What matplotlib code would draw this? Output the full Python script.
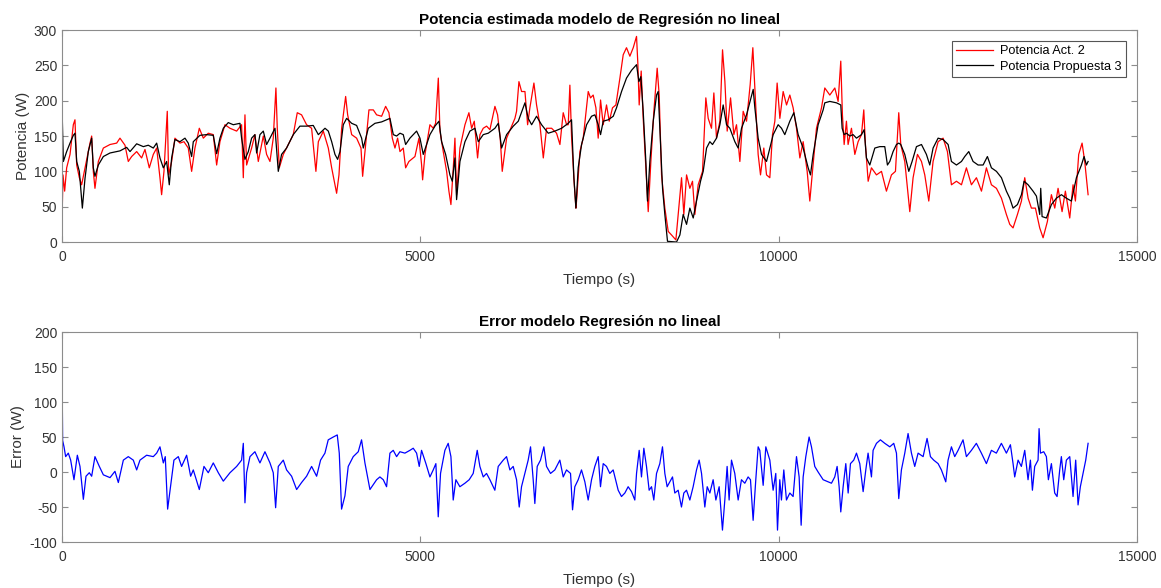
import matplotlib
matplotlib.use("Agg")
import matplotlib.pyplot as plt

# puntos (tiempo s, valor W)
act2_pts = [(0,29),(14,95),(37,72),(65,105),(112,124),(158,166),(181,173),(205,109),(242,91),(274,81),(321,105),(391,140),(414,150),(437,100),(460,76),(507,114),(577,133),(670,138),(763,140),(809,147),(879,137),(925,114),(972,121),(1042,128),(1111,119),(1158,131),(1218,105),(1274,124),(1321,133),(1367,91),(1390,67),(1423,100),(1469,185),(1488,95),(1530,114),(1576,147),(1646,140),(1702,142),(1762,133),(1809,100),(1855,133),(1916,161),(1972,147),(2041,154),(2111,152),(2158,109),(2204,142),(2274,166),(2344,161),(2437,157),(2506,166),(2530,91),(2553,180),(2576,109),(2646,133),(2692,152),(2739,114),(2809,150),(2855,124),(2902,114),(2948,147),(2985,218),(3004,161),(3032,105),(3088,124),(3157,138),(3227,152),(3283,183),(3343,180),(3413,166),(3483,161),(3543,100),
    (3577,142),(3646,157),(3716,133),(3763,105),(3809,81),(3832,69),(3865,95),(3902,161),(3939,190),(3958,206),(3986,180),(4042,152),(4111,147),(4172,133),(4195,93),(4237,138),(4283,187),(4344,187),(4390,180),(4460,178),(4516,192),(4562,183),(4609,147),(4646,133),(4683,147),(4716,128),(4762,133),(4795,105),(4841,114),(4925,121),(4981,147),(5018,109),(5032,88),(5065,124),(5134,166),(5181,161),(5213,168),(5251,232),(5274,157),(5320,128),(5367,100),(5399,72),(5427,53),(5460,105),(5483,147),(5506,67),(5553,133),(5623,166),(5678,183),(5716,161),(5753,171),(5799,119),(5832,152),(5878,161),(5925,164),(5971,159),(6041,192),(6078,180),(6115,147),(6143,100),(6204,147),(6274,164),(6320,175),(6343,185),(6376,227),(6413,213),(6460,213),(6497,166),(6529,190),(6585,225),(6622,194),(6669,166),(6716,119),(6762,161),(6832,161),(6901,154),(6948,138),(6994,183),(7041,166),(7064,166),(7087,222),(7110,150),(7143,90),(7171,48),
    (7180,58),(7227,128),(7273,147),(7343,213),(7375,204),(7412,208),(7450,190),(7482,147),(7515,201),(7552,166),(7598,194),(7636,171),(7682,190),(7729,194),(7785,232),(7831,265),(7877,275),(7924,263),(7971,275),(8017,291),(8036,251),(8054,194),(8082,242),(8110,175),(8147,105),(8180,43),(8217,114),(8259,185),(8305,246),(8333,208),(8366,95),(8412,48),(8459,15),(8505,10),(8566,3),(8598,39),(8645,91),(8677,39),(8715,95),(8761,76),(8798,86),(8831,39),(8877,81),(8938,100),(8984,204),(9017,175),(9063,161),(9096,211),(9133,147),(9180,171),(9217,272),(9250,227),(9282,157),(9329,204),(9375,152),(9412,166),(9459,114),(9505,185),(9552,171),(9603,223),(9640,275),(9673,208),(9714,124),(9747,95),(9793,133),(9831,95),(9877,91),(9914,152),(9947,171),(9979,225),(10017,175),(10063,213),(10110,194),(10156,208),(10202,190),(10249,161),(10296,119),(10342,142),(10398,100),(10435,58),(10472,100),(10528,161),(10598,190),
    (10644,218),(10714,208),(10784,218),(10830,199),(10867,256),(10890,180),(10914,138),(10946,171),(10969,138),(11016,161),(11063,124),(11109,142),(11156,152),(11188,187),(11211,138),(11249,86),(11295,105),(11365,95),(11435,100),(11504,72),(11574,95),(11630,100),(11676,183),(11704,138),(11760,114),(11830,43),(11876,91),(11937,124),(11993,114),(12039,95),(12095,58),(12155,114),(12225,142),(12295,147),(12355,128),(12411,81),(12481,86),(12551,81),(12620,105),(12690,81),(12760,91),(12830,72),(12899,105),(12969,81),(13039,76),(13109,62),(13178,39),(13225,25),(13271,20),(13332,39),(13388,58),(13434,91),(13481,62),(13527,48),(13583,48),(13643,20),(13690,6),(13750,29),(13806,67),(13853,48),(13899,76),(13955,43),(14001,72),(14062,34),(14108,81),(14141,58),(14187,124),(14234,140),(14271,114),(14318,67)]

prop3_pts = [(0,192),(19,114),(65,128),(112,140),(158,151),(181,154),(205,114),(242,100),(284,48),(321,90),(367,128),(414,147),(437,105),(460,93),(507,109),(577,121),(670,126),(809,129),(902,134),(949,128),(1042,139),(1135,135),(1204,137),(1274,133),(1321,140),(1367,119),(1414,105),(1460,114),(1497,81),(1530,119),(1576,145),(1646,142),(1716,147),(1762,140),(1809,121),(1832,142),(1925,151),(2018,152),(2111,151),(2158,125),(2204,147),(2251,161),(2320,169),(2390,166),(2483,168),(2506,147),(2553,117),(2600,128),(2646,147),(2692,152),(2716,126),(2762,152),(2809,157),(2855,138),(2902,147),(2972,161),(3018,100),(3064,124),(3134,133),(3227,152),(3320,164),(3413,164),(3506,165),
    (3577,152),(3670,161),(3716,157),(3763,142),(3809,124),(3846,117),(3879,128),(3925,166),(3972,175),(4042,168),(4111,165),(4181,147),(4204,133),(4274,161),(4367,168),(4460,170),(4530,173),(4576,175),(4623,152),(4669,150),(4716,154),(4762,152),(4795,138),(4855,147),(4948,157),(4995,147),(5041,124),(5134,152),(5204,164),(5260,171),(5297,142),(5353,124),(5413,95),(5446,86),(5483,119),(5506,60),(5553,114),(5623,142),(5692,157),(5762,161),(5809,142),(5878,152),(5948,154),(6041,161),(6088,168),(6134,133),(6204,152),(6297,164),(6367,171),(6460,197),(6506,175),(6553,166),(6622,178),(6692,166),(6785,154),(6878,157),(6971,161),(7064,168),(7110,173),
    (7143,91),(7171,48),(7203,105),(7250,138),(7320,166),(7389,178),(7436,180),(7482,166),(7515,152),(7552,171),(7622,173),(7692,178),(7738,190),(7808,213),(7877,232),(7947,243),(8017,251),(8050,227),(8077,234),(8110,185),(8147,114),(8170,58),(8203,114),(8250,171),(8296,208),(8319,213),(8342,161),(8380,76),(8412,39),(8449,1),(8575,0),(8622,10),(8668,39),(8715,25),(8761,48),(8808,34),(8854,58),(8910,86),(8947,100),(8994,133),(9040,142),(9077,138),(9133,147),(9180,166),(9226,194),(9273,166),(9319,161),(9389,142),(9435,133),(9482,161),(9552,180),(9645,216),(9668,190),(9714,147),(9761,124),(9831,114),(9877,133),(9924,152),(9993,166),(10040,161),(10086,152),(10156,171),(10212,183),(10272,152),(10342,133),(10412,105),(10444,95),(10482,124),(10551,166),(10621,187),
    (10644,197),(10714,199),(10807,197),(10867,194),(10886,161),(10914,152),(10946,154),(10993,150),(11039,152),(11086,147),(11156,152),(11193,159),(11225,119),(11272,109),(11342,133),(11411,135),(11481,135),(11518,109),(11551,114),(11597,128),(11644,138),(11676,140),(11704,138),(11760,124),(11816,100),(11862,114),(11923,135),(11993,138),(12062,124),(12109,109),(12155,133),(12225,147),(12295,145),(12365,138),(12411,114),(12481,109),(12551,114),(12597,121),(12653,128),(12713,114),(12783,109),(12853,109),(12913,121),(12969,105),(13039,100),(13109,91),(13178,72),(13225,62),(13271,48),(13332,53),(13388,67),(13425,86),(13481,81),(13550,72),(13597,65),(13643,39),(13657,76),(13676,36),(13736,34),(13806,53),(13876,62),(13946,67),(14015,62),(14085,58),(14155,91),(14225,109),(14262,121),(14295,109),(14318,114)]

error_pts = [(0,149),(9,45),(28,36),(51,22),(88,27),(121,17),(167,-11),(214,24),(251,8),(298,-39),(335,-6),(381,-1),(414,-6),(460,22),(521,8),(577,-4),(670,-8),(739,1),(786,-15),(856,17),(925,22),(995,17),(1042,3),(1088,17),(1181,24),(1274,22),(1321,27),(1367,36),(1414,13),(1441,22),(1474,-53),(1516,-20),(1562,17),(1623,22),(1669,8),(1739,24),(1795,-6),(1832,3),(1916,-25),(1981,8),(2041,-1),(2111,13),(2181,-1),(2251,-13),(2344,-1),(2437,8),(2506,17),(2530,41),(2553,-44),(2576,-1),(2623,22),(2692,29),(2762,13),(2832,29),(2902,13),(2948,-1),(2981,-51),(3018,8),(3088,17),(3134,3),(3204,-6),(3274,-25),(3343,-15),(3413,-6),(3483,8),(3553,-6),(3608,17),(3669,27),(3715,46),(3785,50),(3841,53),(3869,27),(3901,-53),(3948,-34),(3994,8),(4064,22),(4134,29),(4180,46),(4227,13),(4297,-25),(4390,-11),
    (4436,-7),(4483,-11),(4529,-21),(4576,27),(4622,31),(4669,22),(4715,29),(4785,27),(4855,31),(4901,34),(4948,27),(4985,8),(5017,31),(5078,12),(5134,-7),(5180,3),(5217,12),(5250,-64),(5282,-2),(5343,31),(5389,41),(5427,22),(5459,-40),(5496,-11),(5552,-21),(5622,-16),(5682,-11),(5738,-2),(5794,31),(5831,8),(5878,-7),(5924,-2),(5971,-11),(6040,-26),(6087,8),(6157,17),(6203,22),(6250,3),(6296,8),(6343,-11),(6380,-50),(6412,-21),(6459,-2),(6505,17),(6538,36),(6575,-11),(6598,-45),(6631,8),(6677,17),(6724,36),(6761,8),(6817,-2),(6877,3),(6947,17),(6994,-7),(7040,3),(7096,-2),(7124,-54),(7156,-21),(7203,-11),(7249,3),(7296,-14),(7342,-40),(7389,-11),(7435,8),(7482,22),(7514,-21),(7552,12),(7598,8),(7644,-2),(7691,3),(7761,-26),(7807,-35),(7854,-30),(7900,-21),(7947,-28),(7993,-40),(8017,-2),(8054,31),(8086,-7),(8119,34),(8156,8),(8193,-26),(8226,-21),(8258,-40),(8296,-2),(8342,12),(8379,36),(8412,-2),(8444,-21),(8482,-14),(8519,-7),(8551,-30),(8598,-26),(8644,-50),(8677,-30),(8714,-26),(8761,-40),(8807,-21),(8854,3),(8891,17),(8924,-2),(8970,-50),(9003,-21),(9040,-30),(9086,-11),(9124,-40),(9170,-21),(9216,-83),(9249,-40),(9281,8),(9309,-40),(9342,17),(9388,-2),(9435,-40),(9481,-11),(9528,-16),(9574,-7),(9607,-11),(9644,-69),(9681,-11),(9714,36),
    (9737,31),(9784,-19),(9821,36),(9877,17),(9923,-26),(9960,-2),(9984,-83),(10016,-11),(10039,-40),(10072,3),(10109,-40),(10156,-30),(10202,-35),(10249,22),(10286,-7),(10314,-76),(10342,-7),(10379,22),(10425,50),(10458,36),(10504,8),(10551,0),(10621,-11),(10690,-14),(10737,-16),(10783,-7),(10816,8),(10844,-21),(10867,-57),(10900,-21),(10937,12),(10970,-30),(11002,12),(11048,17),(11086,27),(11132,12),(11179,-28),(11216,3),(11248,27),(11295,-7),(11318,31),(11365,41),(11420,46),(11481,41),(11551,36),(11606,41),(11644,27),(11676,-38),(11713,3),(11760,27),(11806,55),(11853,27),(11899,8),(11946,27),(12016,22),(12071,48),(12118,22),(12164,17),(12225,12),(12271,3),(12332,-14),(12364,17),(12411,36),(12457,22),(12504,31),(12573,46),(12620,22),(12690,31),(12759,41),(12829,27),(12899,12),(12969,31),(13038,27),(13108,41),(13178,27),(13234,39),(13271,12),(13294,-7),(13341,17),(13387,8),(13434,31),(13480,-11),(13513,17),(13541,-26),(13573,8),(13620,17),(13634,62),(13653,27),(13699,29),(13736,22),(13764,-11),(13806,12),(13852,-30),(13885,-35),(13922,3),(13945,22),(13978,-11),(14015,17),(14062,22),(14108,-35),(14145,17),(14178,-47),(14210,-21),(14248,-2),(14285,17),(14318,41)]

x_ticks = [0, 5000, 10000, 15000]
y_ticks_top = [0, 50, 100, 150, 200, 250, 300]
y_ticks_bot = [-100, -50, 0, 50, 100, 150, 200]

t_act, p_act = zip(*act2_pts)
t_prop, p_prop = zip(*prop3_pts)
t_err, e_err = zip(*error_pts)

plt.rcParams['font.family'] = ['Liberation Sans', 'DejaVu Sans']
plt.rcParams['axes.unicode_minus'] = False
edge = '#8c8c8c'
txt = '#333333'

fig = plt.figure(figsize=(11.61, 5.88), dpi=100)
ax1 = fig.add_axes([0.0534, 0.5884, 0.9259, 0.3605])
ax2 = fig.add_axes([0.0534, 0.0782, 0.9259, 0.3571])

ax1.plot(t_act, p_act, color='#ff0000', lw=0.9, label='Potencia Act. 2')
ax1.plot(t_prop, p_prop, color='black', lw=0.9, label='Potencia Propuesta 3')
ax1.set_xlim(0, 15000)
ax1.set_ylim(0, 300)
ax1.set_yticks(y_ticks_top)
ax1.set_title('Potencia estimada modelo de Regresión no lineal', fontsize=11, fontweight='bold', pad=4)
ax1.set_ylabel('Potencia (W)', fontsize=11, color=txt, labelpad=3)
ax1.set_xlabel('Tiempo (s)', fontsize=11, color=txt, labelpad=6)
leg = ax1.legend(loc='upper right', fontsize=9.2, fancybox=False, framealpha=1,
                 borderaxespad=0.85, handlelength=2.9, handletextpad=0.55,
                 borderpad=0.35, labelspacing=0.25)
leg.get_frame().set_edgecolor('#555555')
leg.get_frame().set_linewidth(0.8)

ax2.plot(t_err, e_err, color='#0000ff', lw=0.9)
ax2.set_xlim(0, 15000)
ax2.set_ylim(-100, 200)
ax2.set_yticks(y_ticks_bot)
ax2.set_title('Error modelo Regresión no lineal', fontsize=11, fontweight='bold', pad=4)
ax2.set_ylabel('Error (W)', fontsize=11, color=txt, labelpad=3)
ax2.set_xlabel('Tiempo (s)', fontsize=11, color=txt, labelpad=6)

for ax in (ax1, ax2):
    ax.set_xticks(x_ticks)
    ax.tick_params(direction='in', top=True, right=True, length=4, width=0.8,
                   colors=edge, labelcolor=txt, labelsize=10)
    ax.tick_params(axis='x', pad=6)
    for s in ax.spines.values():
        s.set_color(edge)
        s.set_linewidth(0.8)

fig.savefig('out.png', dpi=100)
